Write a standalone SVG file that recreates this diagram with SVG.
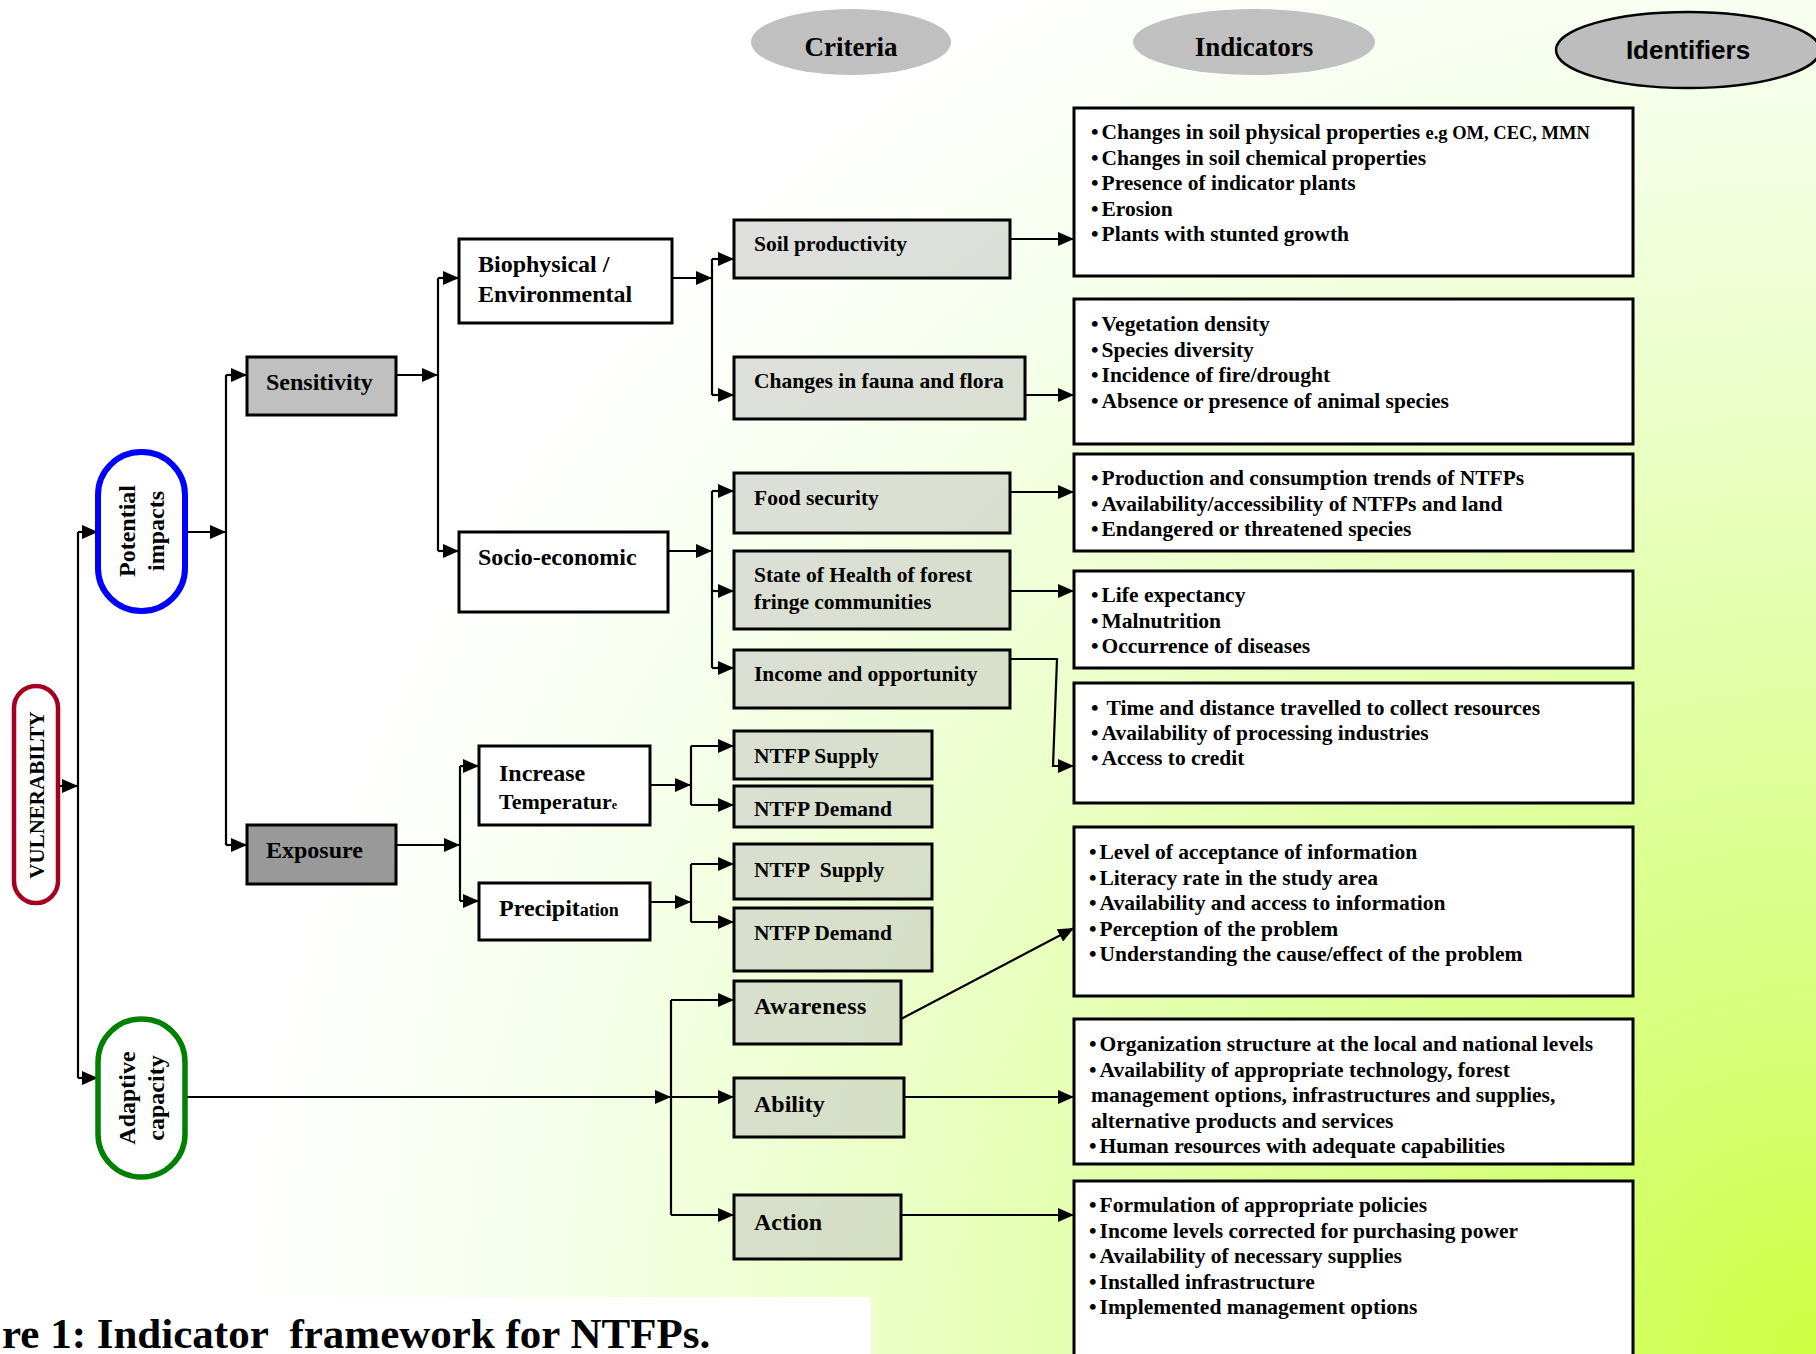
<svg xmlns="http://www.w3.org/2000/svg" width="1816" height="1354" viewBox="0 0 1816 1354">
<defs>
  <radialGradient id="bg" gradientUnits="userSpaceOnUse" cx="1816" cy="1354" r="1580">
    <stop offset="0" stop-color="#ccff40"/>
    <stop offset="0.2" stop-color="#d6ff78"/>
    <stop offset="0.45" stop-color="#e2ffaa"/>
    <stop offset="0.65" stop-color="#eeffd0"/>
    <stop offset="0.85" stop-color="#f8fff0"/>
    <stop offset="1" stop-color="#ffffff"/>
  </radialGradient>
  <marker id="ah" viewBox="0 0 15 13" refX="15" refY="6.5" markerWidth="16" markerHeight="14" markerUnits="userSpaceOnUse" orient="auto">
    <path d="M0,0 L15,6.5 L0,13 Z" fill="#000"/>
  </marker>
  <style>
    .t { font-family: "Liberation Serif", "Times New Roman", serif; font-weight: bold; fill: #000; }
    .it { font-size: 21.5px; }
    .ct { font-size: 21.5px; }
    .mt { font-size: 24px; }
    .box { stroke: #000; stroke-width: 3; }
    .wbox { fill: #fff; stroke: #000; stroke-width: 3; }
    .crit { fill: #c0c0c0; fill-opacity: 0.5; stroke: #000; stroke-width: 3; }
    .ind { fill: #fff; stroke: #000; stroke-width: 3; }
    .conn path { fill: none; stroke: #000; stroke-width: 2.2; }
    .conn path.a { marker-end: url(#ah); }
  </style>
</defs>

<rect x="0" y="0" width="1816" height="1354" fill="url(#bg)"/>

<!-- Header ellipses -->
<g id="hdr-criteria">
  <ellipse cx="851" cy="42" rx="100" ry="33" fill="#c0c0c0"/>
  <text class="t" x="851" y="56" font-size="27" text-anchor="middle">Criteria</text>
</g>
<g id="hdr-indicators">
  <ellipse cx="1254" cy="42" rx="121" ry="33" fill="#c0c0c0"/>
  <text class="t" x="1254" y="56" font-size="27" text-anchor="middle">Indicators</text>
</g>
<g id="hdr-identifiers">
  <ellipse cx="1688" cy="50" rx="132" ry="38" fill="#bdbdbd" stroke="#000" stroke-width="2.5"/>
  <text x="1688" y="59" font-family="Liberation Sans, Arial, sans-serif" font-weight="bold" font-size="26" text-anchor="middle">Identifiers</text>
</g>

<!-- Connectors -->
<g id="connectors" class="conn">
  <path class="a" d="M58,786 L78,786"/>
  <path d="M78,532 L78,1078"/>
  <path class="a" d="M78,532 L98,532"/>
  <path class="a" d="M78,1078 L98,1078"/>
  <path class="a" d="M185,532 L226,532"/>
  <path d="M226,375 L226,845"/>
  <path class="a" d="M226,375 L247,375"/>
  <path class="a" d="M226,845 L247,845"/>
  <path class="a" d="M396,375 L438,375"/>
  <path d="M438,278 L438,551"/>
  <path class="a" d="M438,278 L459,278"/>
  <path class="a" d="M438,551 L459,551"/>
  <path class="a" d="M672,278 L712,278"/>
  <path d="M712,259 L712,395"/>
  <path class="a" d="M712,259 L734,259"/>
  <path class="a" d="M712,395 L734,395"/>
  <path class="a" d="M668,551 L712,551"/>
  <path d="M712,491 L712,668"/>
  <path class="a" d="M712,491 L734,491"/>
  <path class="a" d="M712,591 L734,591"/>
  <path class="a" d="M712,668 L734,668"/>
  <path class="a" d="M1010,239 L1074,239"/>
  <path class="a" d="M1025,395 L1074,395"/>
  <path class="a" d="M1010,492 L1074,492"/>
  <path class="a" d="M1010,591 L1074,591"/>
  <path class="a" d="M1010,659 L1057,659 L1053,766 L1074,766"/>
  <path class="a" d="M396,845 L460,845"/>
  <path d="M460,766 L460,901"/>
  <path class="a" d="M460,766 L479,766"/>
  <path class="a" d="M460,901 L479,901"/>
  <path class="a" d="M650,785 L691,785"/>
  <path d="M691,746 L691,805"/>
  <path class="a" d="M691,746 L734,746"/>
  <path class="a" d="M691,805 L734,805"/>
  <path class="a" d="M650,902 L691,902"/>
  <path d="M691,864 L691,922"/>
  <path class="a" d="M691,864 L734,864"/>
  <path class="a" d="M691,922 L734,922"/>
  <path class="a" d="M185,1097 L671,1097"/>
  <path d="M671,1000 L671,1215"/>
  <path class="a" d="M671,1000 L734,1000"/>
  <path class="a" d="M671,1097 L734,1097"/>
  <path class="a" d="M671,1215 L734,1215"/>
  <path class="a" d="M901,1019 L1074,928"/>
  <path class="a" d="M903,1097 L1074,1097"/>
  <path class="a" d="M901,1215 L1074,1215"/>
</g>

<!-- Left pills -->
<g id="vulnerability">
  <rect x="14" y="686" width="44" height="217" rx="22" fill="#fff" stroke="#a50021" stroke-width="4.5"/>
  <text class="t" font-size="21" text-anchor="middle" transform="translate(36,795) rotate(-90)" y="7.5">VULNERABILTY</text>
</g>
<g id="potential-impacts">
  <rect x="98" y="452" width="87" height="159" rx="43" fill="#fff" stroke="#0000ff" stroke-width="6"/>
  <text class="t mt" text-anchor="middle" transform="translate(141,531) rotate(-90)"><tspan x="0" y="-6">Potential</tspan><tspan x="0" y="23">impacts</tspan></text>
</g>
<g id="adaptive-capacity">
  <rect x="98" y="1019" width="87" height="158" rx="43" fill="#fff" stroke="#008000" stroke-width="5.5"/>
  <text class="t mt" text-anchor="middle" transform="translate(141,1098) rotate(-90)"><tspan x="0" y="-6">Adaptive</tspan><tspan x="0" y="23">capacity</tspan></text>
</g>

<!-- Level 2 -->
<g id="sensitivity">
  <rect x="247" y="357" width="149" height="58" fill="#c0c0c0" class="box"/>
  <text class="t mt" x="266" y="390">Sensitivity</text>
</g>
<g id="exposure">
  <rect x="247" y="825" width="149" height="59" fill="#999999" class="box"/>
  <text class="t mt" x="266" y="858">Exposure</text>
</g>

<!-- Level 3 -->
<g id="biophysical">
  <rect x="459" y="239" width="213" height="84" class="wbox"/>
  <text class="t mt" x="478" y="272">Biophysical /</text>
  <text class="t mt" x="478" y="302">Environmental</text>
</g>
<g id="socio-economic">
  <rect x="459" y="532" width="209" height="80" class="wbox"/>
  <text class="t mt" x="478" y="565">Socio-economic</text>
</g>
<g id="increase-temperature">
  <rect x="479" y="746" width="171" height="79" class="wbox"/>
  <text class="t mt" x="499" y="781">Increase</text>
  <text class="t" font-size="22" x="499" y="809">Temperatur<tspan font-size="12">e</tspan></text>
</g>
<g id="precipitation">
  <rect x="479" y="883" width="171" height="57" class="wbox"/>
  <text class="t mt" x="499" y="916">Precipit<tspan font-size="18">ation</tspan></text>
</g>

<!-- Criteria -->
<g id="soil-productivity">
  <rect x="734" y="220" width="276" height="58" class="crit"/>
  <text class="t ct" x="754" y="251">Soil productivity</text>
</g>
<g id="fauna-flora">
  <rect x="734" y="357" width="291" height="62" class="crit"/>
  <text class="t ct" x="754" y="388">Changes in fauna and flora</text>
</g>
<g id="food-security">
  <rect x="734" y="473" width="276" height="60" class="crit"/>
  <text class="t ct" x="754" y="505">Food security</text>
</g>
<g id="state-health">
  <rect x="734" y="551" width="276" height="78" class="crit"/>
  <text class="t ct" x="754" y="582">State of Health of forest</text>
  <text class="t ct" x="754" y="609">fringe communities</text>
</g>
<g id="income-opportunity">
  <rect x="734" y="650" width="276" height="58" class="crit"/>
  <text class="t ct" x="754" y="681">Income and opportunity</text>
</g>
<g id="ntfp-supply-1">
  <rect x="734" y="731" width="198" height="48" class="crit"/>
  <text class="t ct" x="754" y="763">NTFP Supply</text>
</g>
<g id="ntfp-demand-1">
  <rect x="734" y="786" width="198" height="41" class="crit"/>
  <text class="t ct" x="754" y="816">NTFP Demand</text>
</g>
<g id="ntfp-supply-2">
  <rect x="734" y="844" width="198" height="55" class="crit"/>
  <text class="t ct" x="754" y="877" style="white-space:pre">NTFP  Supply</text>
</g>
<g id="ntfp-demand-2">
  <rect x="734" y="908" width="198" height="63" class="crit"/>
  <text class="t ct" x="754" y="940">NTFP Demand</text>
</g>
<g id="awareness">
  <rect x="734" y="981" width="167" height="63" class="crit"/>
  <text class="t mt" x="754" y="1014" letter-spacing="0.5">Awareness</text>
</g>
<g id="ability">
  <rect x="734" y="1078" width="170" height="59" class="crit"/>
  <text class="t mt" x="754" y="1112">Ability</text>
</g>
<g id="action">
  <rect x="734" y="1195" width="167" height="64" class="crit"/>
  <text class="t mt" x="754" y="1230">Action</text>
</g>

<!-- Indicator boxes -->
<g id="ind-soil">
  <rect x="1074" y="108" width="559" height="168" class="ind"/>
  <text class="t it" x="1091" y="139">•<tspan dx="3">Changes in soil physical properties </tspan><tspan font-size="18.5">e.g OM, CEC, MMN</tspan></text>
  <text class="t it" x="1091" y="164.5">•<tspan dx="3">Changes in soil chemical properties</tspan></text>
  <text class="t it" x="1091" y="190">•<tspan dx="3">Presence of indicator plants</tspan></text>
  <text class="t it" x="1091" y="215.5">•<tspan dx="3">Erosion</tspan></text>
  <text class="t it" x="1091" y="241">•<tspan dx="3">Plants with stunted growth</tspan></text>
</g>
<g id="ind-fauna">
  <rect x="1074" y="299" width="559" height="145" class="ind"/>
  <text class="t it" x="1091" y="331">•<tspan dx="3">Vegetation density</tspan></text>
  <text class="t it" x="1091" y="357">•<tspan dx="3">Species diversity</tspan></text>
  <text class="t it" x="1091" y="382">•<tspan dx="3">Incidence of fire/drought</tspan></text>
  <text class="t it" x="1091" y="408">•<tspan dx="3">Absence or presence of animal species</tspan></text>
</g>
<g id="ind-food">
  <rect x="1074" y="454" width="559" height="97" class="ind"/>
  <text class="t it" x="1091" y="485">•<tspan dx="3">Production and consumption trends of NTFPs</tspan></text>
  <text class="t it" x="1091" y="511">•<tspan dx="3">Availability/accessibility of NTFPs and land</tspan></text>
  <text class="t it" x="1091" y="536">•<tspan dx="3">Endangered or threatened species</tspan></text>
</g>
<g id="ind-health">
  <rect x="1074" y="571" width="559" height="97" class="ind"/>
  <text class="t it" x="1091" y="602">•<tspan dx="3">Life expectancy</tspan></text>
  <text class="t it" x="1091" y="628">•<tspan dx="3">Malnutrition</tspan></text>
  <text class="t it" x="1091" y="653">•<tspan dx="3">Occurrence of diseases</tspan></text>
</g>
<g id="ind-income">
  <rect x="1074" y="683" width="559" height="120" class="ind"/>
  <text class="t it" x="1091" y="715">•<tspan dx="3"> Time and distance travelled to collect resources</tspan></text>
  <text class="t it" x="1091" y="740">•<tspan dx="3">Availability of processing industries</tspan></text>
  <text class="t it" x="1091" y="765">•<tspan dx="3">Access to credit</tspan></text>
</g>
<g id="ind-awareness">
  <rect x="1074" y="827" width="559" height="169" class="ind"/>
  <text class="t it" x="1089" y="859">•<tspan dx="3">Level of acceptance of information</tspan></text>
  <text class="t it" x="1089" y="885">•<tspan dx="3">Literacy rate in the study area</tspan></text>
  <text class="t it" x="1089" y="910">•<tspan dx="3">Availability and access to information</tspan></text>
  <text class="t it" x="1089" y="936">•<tspan dx="3">Perception of the problem</tspan></text>
  <text class="t it" x="1089" y="961">•<tspan dx="3">Understanding the cause/effect of the problem</tspan></text>
</g>
<g id="ind-ability">
  <rect x="1074" y="1019" width="559" height="145" class="ind"/>
  <text class="t it" x="1089" y="1051">•<tspan dx="3">Organization structure at the local and national levels</tspan></text>
  <text class="t it" x="1089" y="1077">•<tspan dx="3">Availability of appropriate technology, forest</tspan></text>
  <text class="t it" x="1091" y="1102">management options, infrastructures and supplies,</text>
  <text class="t it" x="1091" y="1128">alternative products and services</text>
  <text class="t it" x="1089" y="1153">•<tspan dx="3">Human resources with adequate capabilities</tspan></text>
</g>
<g id="ind-action">
  <rect x="1074" y="1181" width="559" height="200" class="ind"/>
  <text class="t it" x="1089" y="1212">•<tspan dx="3">Formulation of appropriate policies</tspan></text>
  <text class="t it" x="1089" y="1238">•<tspan dx="3">Income levels corrected for purchasing power</tspan></text>
  <text class="t it" x="1089" y="1263">•<tspan dx="3">Availability of necessary supplies</tspan></text>
  <text class="t it" x="1089" y="1289">•<tspan dx="3">Installed infrastructure</tspan></text>
  <text class="t it" x="1089" y="1314">•<tspan dx="3">Implemented management options</tspan></text>
</g>

<!-- Caption -->
<g id="caption">
  <rect x="0" y="1297" width="871" height="57" fill="#fff"/>
  <text class="t" x="2" y="1348" font-size="43" style="white-space:pre">re 1: Indicator  framework for NTFPs.</text>
</g>
</svg>
